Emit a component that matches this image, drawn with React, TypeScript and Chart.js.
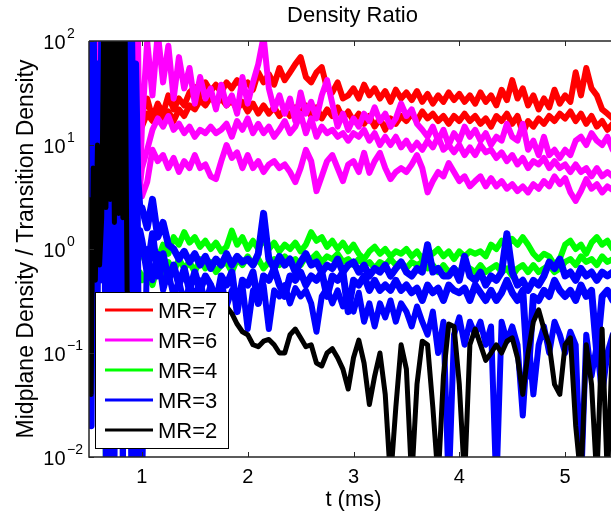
import React, { useEffect, useRef } from "react";
import { Chart, registerables } from "chart.js";

Chart.register(...registerables);

// time axis (ms): fine sampling during the early burst, then 0.05 ms
const T = [
  0.50, 0.52, 0.54, 0.56, 0.58, 0.60, 0.62, 0.64, 0.66, 0.68,
  0.70, 0.72, 0.74, 0.76, 0.78, 0.80, 0.82, 0.84, 0.86, 0.88,
  0.90, 0.92, 0.94, 0.96, 0.98,
  1.00, 1.05, 1.10, 1.15, 1.20, 1.25, 1.30, 1.35, 1.40, 1.45,
  1.50, 1.55, 1.60, 1.65, 1.70, 1.75, 1.80, 1.85, 1.90, 1.95,
  2.00, 2.05, 2.10, 2.15, 2.20, 2.25, 2.30, 2.35, 2.40, 2.45,
  2.50, 2.55, 2.60, 2.65, 2.70, 2.75, 2.80, 2.85, 2.90, 2.95,
  3.00, 3.05, 3.10, 3.15, 3.20, 3.25, 3.30, 3.35, 3.40, 3.45,
  3.50, 3.55, 3.60, 3.65, 3.70, 3.75, 3.80, 3.85, 3.90, 3.95,
  4.00, 4.05, 4.10, 4.15, 4.20, 4.25, 4.30, 4.35, 4.40, 4.45,
  4.50, 4.55, 4.60, 4.65, 4.70, 4.75, 4.80, 4.85, 4.90, 4.95,
  5.00, 5.05, 5.10, 5.15, 5.20, 5.25, 5.30, 5.35, 5.40, 5.45,
];

const N = null;

// MR=7 (two shots)
const MR7_A = [
  N, N, N, N, N, N, N, N, N, N,
  N, N, N, N, N, N, N, N, N, N,
  N, 200, 150, 20, 10,
  20, 28, 18, 25, 20, 30, 22, 28, 24, 32,
  36, 30, 40, 33, 38, 32, 40, 35, 42, 36,
  40, 34, 50, 40, 48, 38, 55, 42, 50, 60,
  70, 45, 40, 50, 56, 35, 32, 40, 28, 30,
  35, 28, 38, 30, 35, 28, 33, 26, 34, 28,
  32, 27, 33, 26, 31, 25, 30, 26, 32, 27,
  31, 26, 30, 25, 32, 26, 30, 24, 34, 27,
  42, 28, 35, 24, 30, 22, 28, 23, 34, 25,
  30, 26, 50, 30, 55, 35, 30, 22, 20, 18,
];
const MR7_B = [
  N, N, N, N, N, N, N, N, N, N,
  N, N, N, N, N, N, N, N, N, N,
  N, N, 200, 30, 14,
  15, 20, 17, 22, 18, 21, 17, 22, 19, 24,
  22, 27, 24, 29, 25, 28, 24, 27, 22, 26,
  21, 25, 20, 24, 20, 23, 19, 22, 19, 23,
  20, 24, 19, 23, 18, 22, 19, 23, 18, 21,
  17, 20, 16, 19, 15, 18, 14, 18, 16, 19,
  17, 20, 17, 21, 18, 20, 17, 19, 16, 19,
  17, 20, 17, 19, 16, 18, 15, 19, 17, 20,
  16, 19, 13, 17, 15, 18, 16, 19, 17, 20,
  18, 21, 17, 20, 16, 19, 15, 17, 14, 16,
];

// MR=6 (three shots)
const MR6_A = [
  200, 10, 200, 12, 200, 10, 200, 200, 200, 200,
  200, 0.005, 200, 200, 200, 200, 200, 200, 200, 200,
  200, 200, 4, 200, 3.5,
  15, 100, 30, 120, 40, 90, 28, 70, 35, 55,
  25, 45, 28, 35, 22, 38, 24, 30, 20, 45,
  25, 40, 60, 110, 35, 22, 30, 20, 28, 17,
  32, 20, 26, 18, 30, 42, 25, 15, 20, 14,
  18, 15, 20, 17, 23, 17, 20, 15, 18, 25,
  19, 22, 16, 14, 12, 15, 11, 14, 10, 13,
  11, 15, 12, 14, 11, 13, 10, 12, 11, 16,
  12, 11, 16, 9, 11, 8, 12, 8, 9, 7.5,
  9, 8, 11, 12, 10, 13, 11, 10, 12, 9,
];
const MR6_B = [
  N, N, N, N, N, N, N, N, N, N,
  N, N, N, N, N, N, N, N, N, N,
  N, N, N, N, 4,
  6, 9, 14, 18, 15, 19, 14, 16, 13, 15,
  12, 14, 13, 15, 13, 14, 16, 12, 17, 14,
  18, 13, 16, 13, 15, 12, 14, 17, 13, 15,
  20, 13, 18, 12, 15, 13, 14, 12, 13, 11,
  13, 12, 14, 11, 13, 10, 12, 10, 12, 9.5,
  11, 9, 10.5, 9, 11, 9.5, 12, 9, 10, 8.5,
  10, 8, 9.5, 8, 10, 8.5, 9, 7.5, 8.5, 7,
  8, 6.5, 7.5, 6, 7, 6.5, 7.5, 6, 7, 6,
  6.5, 5.5, 6.5, 5.5, 6, 5, 6, 5, 5.5, 5,
];
const MR6_C = [
  N, N, N, N, N, N, N, N, N, N,
  N, N, N, N, N, N, N, N, N, N,
  N, N, N, N, 3.7,
  3.2, 4.4, 9, 7, 8, 6, 7.5, 5.5, 7, 6,
  8, 6, 6.5, 5, 4.7, 7, 10, 7.5, 8.5, 6,
  8, 6, 7, 5.5, 6.5, 7, 6, 6.5, 5.5, 4.4,
  6, 9, 7, 3.6, 5, 7, 8, 6, 4.5, 6.5,
  7, 5.5, 8.4, 5.4, 7, 8.4, 6, 4.7, 5.5, 6,
  5.5, 6.5, 8, 6, 3.5, 4.5, 5.5, 5, 6.7, 5.5,
  4.5, 5, 4, 4.5, 5, 4, 4.8, 4, 4.5, 3.8,
  4.2, 3.6, 4, 3.5, 4.2, 3.8, 4.5, 4, 5, 4.2,
  4.8, 3.5, 2.9, 3.6, 4.7, 3.8, 4.2, 3.5, 4, 3.7,
];

// MR=4 (two shots)
const MR4_A = [
  0.5, 0.04, 1, 0.3, 2, 0.5, 3, 200, 0.005, 0.5,
  1, 200, 5, 1, 0.5, 2, 0.5, 1, 3, 200,
  1, 0.5, 1.5, 0.8, 1.2,
  0.9, 0.7, 1.0, 0.8, 1.1, 0.9, 1.3, 1.1, 1.45, 1.15,
  1.3, 1.05, 1.2, 1.0, 1.15, 0.95, 1.05, 1.5, 1.1, 1.3,
  1.0, 1.2, 1.0, 1.25, 1.0, 1.15, 0.95, 1.1, 1.0, 1.15,
  0.95, 1.1, 1.45, 1.2, 1.3, 1.05, 1.2, 1.0, 1.15, 0.95,
  1.1, 0.9, 0.8, 0.95, 1.05, 0.9, 1.0, 0.85, 0.95, 0.9,
  1.0, 0.85, 0.95, 0.8, 0.95, 0.9, 1.0, 0.85, 0.95, 0.8,
  0.95, 0.85, 0.95, 0.9, 0.95, 0.85, 1.1, 1.0, 1.2, 1.05,
  1.25, 1.1, 1.3, 1.1, 0.9, 0.8, 0.9, 0.85, 0.7, 0.8,
  1.1, 1.2, 1.0, 1.1, 0.9, 1.15, 1.3, 1.1, 1.2, 1.0,
];
const MR4_B = [
  N, N, N, N, N, N, N, N, N, N,
  N, N, N, N, N, N, N, N, N, 200,
  28, 0.5, 0.005, 0.5, 0.6,
  0.5, 0.6, 0.45, 0.7, 0.55, 0.75, 0.6, 0.8, 0.65, 0.75,
  0.6, 0.8, 0.65, 0.75, 0.6, 0.7, 0.75, 0.6, 0.8, 0.7,
  0.85, 0.7, 0.8, 0.65, 0.75, 0.8, 0.7, 0.85, 0.75, 0.8,
  0.7, 0.85, 0.8, 0.9, 0.75, 0.85, 0.8, 0.9, 0.75, 0.8,
  0.7, 0.8, 0.7, 0.75, 0.65, 0.75, 0.7, 0.8, 0.7, 0.75,
  0.65, 0.75, 0.7, 0.75, 0.65, 0.7, 0.6, 0.7, 0.6, 0.65,
  0.6, 0.7, 0.65, 0.6, 0.7, 0.6, 0.65, 0.7, 0.6, 0.65,
  0.55, 0.65, 0.7, 0.6, 0.7, 0.6, 0.65, 0.7, 0.6, 0.65,
  0.75, 0.8, 0.7, 0.85, 0.75, 0.8, 0.7, 0.85, 0.75, 0.8,
];

// MR=3 (three shots)
const MR3_A = [
  200, 0.02, 150, 1, 60, 0.8, 100, 0.5, 30, 0.3,
  80, 0.005, 50, 0.5, 100, 0.3, 200, 0.5, 200, 10,
  200, 3, 60, 5, 2.5,
  2.5, 1.6, 3.0, 1.3, 1.8, 1.1, 1.0, 0.8, 0.95, 0.75,
  0.9, 0.7, 0.85, 0.65, 0.8, 0.7, 0.9, 0.7, 0.85, 0.75,
  0.8, 0.7, 0.9, 2.2, 0.8, 0.65, 0.85, 0.7, 0.8, 0.6,
  0.75, 0.9, 0.7, 0.75, 0.6, 0.7, 0.65, 0.8, 0.6, 0.7,
  0.75, 0.6, 0.7, 0.55, 0.65, 0.6, 0.7, 0.55, 0.65, 0.75,
  0.6, 0.55, 0.65, 0.6, 1.1, 0.6, 0.65, 0.55, 0.55, 0.65,
  0.5, 0.85, 0.55, 0.5, 0.6, 0.45, 0.55, 0.5, 0.6, 1.4,
  0.6, 0.45, 0.5, 0.4, 0.5, 0.45, 0.55, 0.75, 0.65, 0.8,
  0.55, 0.6, 0.5, 0.65, 0.55, 0.6, 0.5, 0.6, 0.55, 0.6,
];
const MR3_B = [
  5, 100, 0.5, 30, 0.2, 20, 0.5, 50, 0.005, 40,
  0.3, 30, 0.005, 60, 0.4, 80, 0.005, 100, 0.3, 150,
  0.005, 30, 0.005, 3, 0.005,
  0.005, 1.0, 0.5, 0.9, 0.4, 0.6, 0.35, 0.5, 0.3, 0.45,
  0.35, 0.5, 0.3, 0.45, 0.35, 0.5, 0.28, 0.4, 0.3, 0.45,
  0.17, 0.4, 0.3, 0.45, 0.17, 0.4, 0.35, 0.45, 0.3, 0.42,
  0.35, 0.4, 0.3, 0.16, 0.35, 0.42, 0.3, 0.4, 0.28, 0.35,
  0.25, 0.38, 0.2, 0.3, 0.18, 0.3, 0.22, 0.32, 0.2, 0.3,
  0.25, 0.18, 0.28, 0.2, 0.15, 0.25, 0.1, 0.2, 0.005, 0.15,
  0.22, 0.12, 0.2, 0.15, 0.2, 0.12, 0.18, 0.005, 0.2, 0.13,
  0.18, 0.12, 0.025, 0.15, 0.04, 0.12, 0.18, 0.1, 0.2, 0.15,
  0.1, 0.16, 0.12, 0.005, 0.15, 0.06, 0.12, 0.04, 0.1, 0.15,
];
const MR3_C = [
  N, N, N, N, N, N, N, N, N, N,
  N, N, N, N, N, N, N, N, N, N,
  N, N, N, N, 1.5,
  1.2, 0.6, 1.4, 0.55, 0.9, 0.5, 0.7, 0.45, 0.65, 0.4,
  0.6, 0.4, 0.55, 0.45, 0.3, 0.55, 0.45, 0.6, 0.25, 0.5,
  0.45, 0.6, 0.3, 0.55, 0.5, 0.65, 0.45, 0.35, 0.55, 0.5,
  0.6, 0.45, 0.55, 0.5, 0.6, 0.35, 0.55, 0.5, 0.6, 0.25,
  0.5, 0.45, 0.55, 0.4, 0.5, 0.4, 0.45, 0.4, 0.5, 0.4,
  0.45, 0.38, 0.42, 0.32, 0.45, 0.38, 0.42, 0.32, 0.45, 0.4,
  0.38, 0.42, 0.32, 0.45, 0.38, 0.32, 0.4, 0.32, 0.38, 0.5,
  0.38, 0.32, 0.4, 0.06, 0.35, 0.32, 0.4, 0.35, 0.5, 0.4,
  0.35, 0.4, 0.32, 0.45, 0.35, 0.4, 0.1, 0.35, 0.4, 0.32,
];

// MR=2 (one shot)
const MR2 = [
  3, 0.04, 6, 0.5, 10, 0.7, 2, 200, 2.5, 200,
  3, 200, 1.8, 200, 2.2, 200, 2, 200, 0.4, 0.3,
  0.25, 0.3, 0.22, 0.28, 0.25,
  0.3, 0.22, 0.3, 0.25, 0.32, 0.27, 0.3, 0.25, 0.28, 0.22,
  0.26, 0.24, 0.28, 0.25, 0.3, 0.27, 0.28, 0.24, 0.19, 0.16,
  0.15, 0.12, 0.115, 0.13, 0.135, 0.12, 0.1, 0.1, 0.15, 0.17,
  0.14, 0.115, 0.12, 0.08, 0.075, 0.1, 0.11, 0.09, 0.07, 0.045,
  0.09, 0.133, 0.08, 0.032, 0.06, 0.1, 0.04, 0.006, 0.03, 0.12,
  0.07, 0.006, 0.05, 0.13, 0.12, 0.03, 0.006, 0.06, 0.19, 0.18,
  0.05, 0.006, 0.12, 0.17, 0.12, 0.085, 0.1, 0.12, 0.1, 0.13,
  0.14, 0.09, 0.04, 0.1, 0.2, 0.26, 0.17, 0.12, 0.05, 0.04,
  0.12, 0.14, 0.02, 0.006, 0.12, 0.05, 0.006, 0.17, 0.006, 0.15,
];

const X_TICKS = [1, 2, 3, 4, 5];
const Y_EXPONENTS = [2, 1, 0, -1, -2];

const LEGEND = [
  { label: "MR=7", color: "#ff0000" },
  { label: "MR=6", color: "#ff00ff" },
  { label: "MR=4", color: "#00ff00" },
  { label: "MR=3", color: "#0000ff" },
  { label: "MR=2", color: "#000000" },
];

// first in list is drawn on top
const SERIES = [
  { data: MR2, color: "#000000", width: 5 },
  { data: MR3_A, color: "#0000ff", width: 7 },
  { data: MR3_B, color: "#0000ff", width: 6 },
  { data: MR3_C, color: "#0000ff", width: 7 },
  { data: MR4_A, color: "#00ff00", width: 6 },
  { data: MR4_B, color: "#00ff00", width: 6 },
  { data: MR6_A, color: "#ff00ff", width: 6 },
  { data: MR6_B, color: "#ff00ff", width: 6 },
  { data: MR6_C, color: "#ff00ff", width: 6 },
  { data: MR7_A, color: "#ff0000", width: 6 },
  { data: MR7_B, color: "#ff0000", width: 6 },
];

const FONT = '"Liberation Sans", Arial, Helvetica, sans-serif';

const decor = {
  id: "decor",
  afterDatasetsDraw(chart: any) {
    const { ctx, chartArea: a, scales } = chart;
    const xs = scales.x;
    const ys = scales.y;
    ctx.save();
    // axes box
    ctx.strokeStyle = "#262626";
    ctx.lineWidth = 1.5;
    ctx.beginPath();
    ctx.moveTo(a.left, a.top);
    ctx.lineTo(a.right, a.top);
    ctx.moveTo(a.left, a.top);
    ctx.lineTo(a.left, a.bottom);
    ctx.lineTo(a.right, a.bottom);
    ctx.lineTo(a.right, a.top);
    ctx.stroke();
    // inward ticks
    ctx.lineWidth = 1;
    ctx.beginPath();
    for (const v of X_TICKS) {
      const px = Math.round(xs.getPixelForValue(v)) + 0.5;
      ctx.moveTo(px, a.bottom);
      ctx.lineTo(px, a.bottom - 5);
      ctx.moveTo(px, a.top);
      ctx.lineTo(px, a.top + 5);
    }
    for (const e of Y_EXPONENTS) {
      const py = Math.round(ys.getPixelForValue(Math.pow(10, e))) + 0.5;
      ctx.moveTo(a.left, py);
      ctx.lineTo(a.left + 5, py);
      ctx.moveTo(a.right, py);
      ctx.lineTo(a.right - 5, py);
    }
    ctx.stroke();

    ctx.fillStyle = "#000";
    // x tick labels
    ctx.font = `20px ${FONT}`;
    ctx.textAlign = "center";
    ctx.textBaseline = "alphabetic";
    for (const v of X_TICKS) {
      ctx.fillText(String(v), xs.getPixelForValue(v), a.bottom + 26);
    }
    // y tick labels: 10 with superscript exponent
    for (const e of Y_EXPONENTS) {
      const py = ys.getPixelForValue(Math.pow(10, e));
      ctx.font = `20px ${FONT}`;
      ctx.textAlign = "right";
      ctx.fillText("10", a.left - 23.5, py + 7.5);
      ctx.font = `14px ${FONT}`;
      ctx.textAlign = "left";
      ctx.fillText(e < 0 ? "\u2212" + String(-e) : String(e), a.left - 22, py - 3);
    }
    // title
    const cx = (a.left + a.right) / 2;
    ctx.font = `22px ${FONT}`;
    ctx.textAlign = "center";
    ctx.fillText("Density Ratio", cx - 1, 21.5);
    // x label
    ctx.fillText("t (ms)", cx, a.bottom + 49);
    // y label
    ctx.save();
    ctx.font = `23px ${FONT}`;
    ctx.translate(33, (a.top + a.bottom) / 2);
    ctx.rotate(-Math.PI / 2);
    ctx.fillText("Midplane Density / Transition Density", 0, 0);
    ctx.restore();

    // legend box
    const lx = a.left + 6;
    const ly = a.bottom - 165;
    const lw = 133;
    const lh = 156;
    ctx.fillStyle = "#ffffff";
    ctx.fillRect(lx, ly, lw, lh);
    ctx.strokeStyle = "#000";
    ctx.lineWidth = 1;
    ctx.strokeRect(lx + 0.5, ly + 0.5, lw, lh);
    LEGEND.forEach((item, i) => {
      const yy = ly + 18 + i * 30;
      ctx.strokeStyle = item.color;
      ctx.lineWidth = 3;
      ctx.beginPath();
      ctx.moveTo(lx + 10, yy);
      ctx.lineTo(lx + 58, yy);
      ctx.stroke();
      ctx.fillStyle = "#000";
      ctx.font = `22px ${FONT}`;
      ctx.textAlign = "left";
      ctx.fillText(item.label, lx + 63, yy + 8);
    });
    ctx.restore();
  },
};

export default function App() {
  const ref = useRef<HTMLCanvasElement | null>(null);
  useEffect(() => {
    document.body.style.margin = "0";
    const canvas = ref.current;
    if (!canvas) return;
    const datasets = SERIES.map((s) => ({
      data: T.map((t, i) => ({ x: t, y: i < s.data.length ? s.data[i] : null })),
      borderColor: s.color,
      backgroundColor: s.color,
      borderWidth: s.width,
      pointRadius: 0,
      tension: 0,
      borderJoinStyle: "round" as const,
      borderCapStyle: "round" as const,
      spanGaps: false,
      clip: 0,
    }));
    const chart = new Chart(canvas, {
      type: "line",
      data: { datasets },
      options: {
        animation: false,
        responsive: false,
        maintainAspectRatio: false,
        events: [],
        parsing: false as any,
        normalized: true,
        layout: { padding: { left: 89, top: 41, right: 2, bottom: 62 } },
        plugins: {
          legend: { display: false },
          title: { display: false },
          tooltip: { enabled: false },
        },
        scales: {
          x: { type: "linear", min: 0.5, max: 5.5, display: false },
          y: { type: "logarithmic", min: 0.01, max: 100, display: false },
        },
      },
      plugins: [decor],
    });
    return () => chart.destroy();
  }, []);
  return (
    <div style={{ width: 611, height: 519, overflow: "hidden", background: "#fff" }}>
      <canvas ref={ref} width={620} height={519} style={{ display: "block" }} />
    </div>
  );
}
